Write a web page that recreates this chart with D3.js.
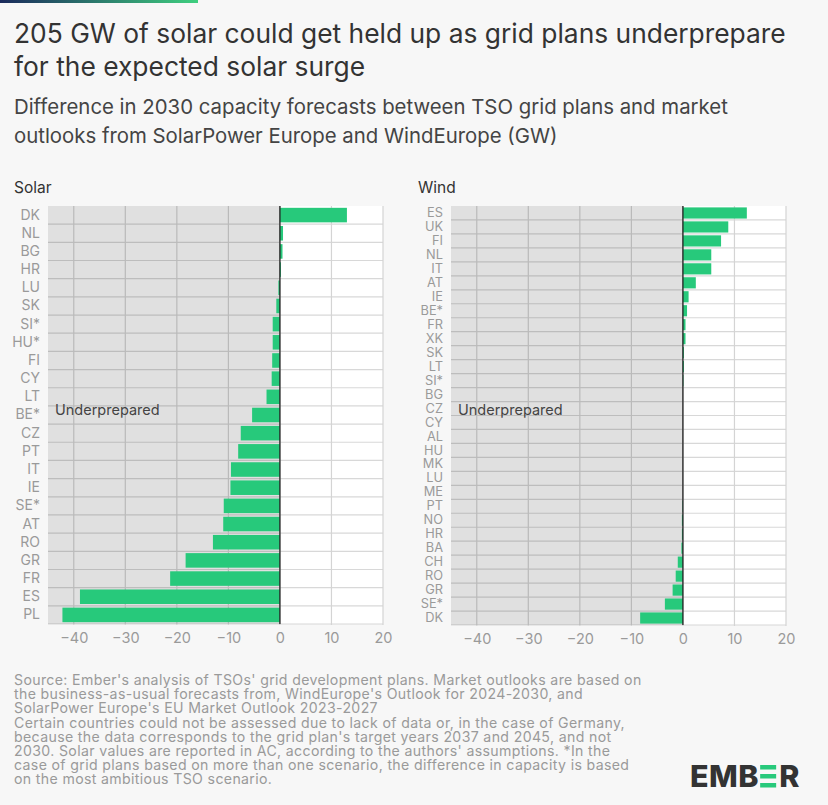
<!DOCTYPE html>
<html>
<head>
<meta charset="utf-8">
<script src="https://cdn.jsdelivr.net/npm/d3@7"></script>
<style>
  body { margin: 0; background: #f7f7f7; }
  svg { display: block; font-family: Inter, "Noto Sans", sans-serif; }
</style>
</head>
<body>
<div id="chart-area"></div>
<script>
// data (GW, TSO plan minus market outlook)
const solarCountries = ["DK","NL","BG","HR","LU","SK","SI*","HU*","FI","CY","LT","BE*","CZ","PT","IT","IE","SE*","AT","RO","GR","FR","ES","PL"];
const solarValues = [13.0, 0.6, 0.5, 0.2, -0.3, -0.7, -1.4, -1.4, -1.5, -1.6, -2.6, -5.4, -7.6, -8.1, -9.5, -9.6, -10.9, -11.0, -13.0, -18.3, -21.3, -38.8, -42.2];

const windCountries = ["ES","UK","FI","NL","IT","AT","IE","BE*","FR","XK","SK","LT","SI*","BG","CZ","CY","AL","HU","MK","LU","ME","PT","NO","HR","BA","CH","RO","GR","SE*","DK"];
const windValues = [12.4, 8.8, 7.4, 5.5, 5.5, 2.5, 1.1, 0.8, 0.5, 0.5, 0.2, 0.2, 0.1, 0, 0, 0, 0, 0, 0, 0, 0, -0.1, -0.2, -0.2, -0.3, -1.0, -1.4, -2.0, -3.5, -8.3];

const xDomain = [-45, 20];
const xTicks = [-40, -30, -20, -10, 0, 10, 20];

const titleLines = ["205 GW of solar could get held up as grid plans underprepare", "for the expected solar surge"];
const subtitleLines = ["Difference in 2030 capacity forecasts between TSO grid plans and market", "outlooks from SolarPower Europe and WindEurope (GW)"];
const footLines = [
  "Source: Ember's analysis of TSOs' grid development plans. Market outlooks are based on",
  "the business-as-usual forecasts from, WindEurope's Outlook for 2024-2030, and",
  "SolarPower Europe's EU Market Outlook 2023-2027",
  "Certain countries could not be assessed due to lack of data or, in the case of Germany,",
  "because the data corresponds to the grid plan's target years 2037 and 2045, and not",
  "2030. Solar values are reported in AC, according to the authors' assumptions. *In the",
  "case of grid plans based on more than one scenario, the difference in capacity is based",
  "on the most ambitious TSO scenario."
];

const W = 828, H = 805;
const green = "#27c97b";

var svg = d3.select("#chart-area")
    .append("svg")
    .attr("width", W)
    .attr("height", H);

// top accent bar
const grad = svg.append("defs").append("linearGradient")
    .attr("id", "topbar");
grad.append("stop").attr("offset", "0%").attr("stop-color", "#1b2a5c");
grad.append("stop").attr("offset", "100%").attr("stop-color", "#3fcf7f");
svg.append("rect")
    .attr("x", 0).attr("y", 0)
    .attr("width", 198).attr("height", 3)
    .attr("fill", "url(#topbar)");

// multi-line text block, font size scaled so the first line spans targetWidth
function textBlock(lines, y0, lineH, size, fill, targetWidth, spacing){
    const t = svg.append("text")
        .attr("fill", fill)
        .attr("font-size", size + "px")
        .attr("letter-spacing", (spacing || 0) + "px");
    t.selectAll("tspan")
        .data(lines)
        .enter().append("tspan")
          .attr("x", 14)
          .attr("y", function(d, i){ return y0 + i * lineH; })
          .text(function(d){ return d; });
    const w = t.select("tspan").node().getComputedTextLength();
    t.attr("font-size", (size * targetWidth / w) + "px");
    return t;
}

textBlock(titleLines, 43, 33, 24, "#333", 772);
textBlock(subtitleLines, 114, 29, 19, "#444", 714);

function drawPanel(opts){
    const x = d3.scaleLinear()
        .domain(xDomain)
        .range([opts.left, opts.right]);

    const y = d3.scaleBand()
        .domain(opts.countries)
        .range([opts.top, opts.bottom])
        .paddingInner(0.2)
        .paddingOuter(0.1);

    const g = svg.append("g");

    // panel title
    g.append("text")
        .attr("x", opts.titleX)
        .attr("y", 193)
        .attr("font-size", "15.5px")
        .attr("fill", "#333")
        .text(opts.title);

    // plot background
    g.append("rect")
        .attr("x", opts.left).attr("y", opts.top)
        .attr("width", opts.right - opts.left)
        .attr("height", opts.bottom - opts.top)
        .attr("fill", "#fff");

    // row separators
    const gap = y.step() - y.bandwidth();
    const rowLines = opts.countries.slice(1).map(function(c){ return y(c) - gap / 2; });
    rowLines.push(opts.bottom);
    g.selectAll(".row-line")
        .data(rowLines)
        .enter().append("line")
        .attr("class", "row-line")
        .attr("x1", opts.left).attr("x2", opts.right)
        .attr("y1", function(d){ return d; })
        .attr("y2", function(d){ return d; })
        .attr("stroke", "#d8d8d8")
        .attr("stroke-width", 1.2);

    // vertical grid
    g.selectAll(".v-line")
        .data(xTicks)
        .enter().append("line")
        .attr("class", "v-line")
        .attr("x1", function(d){ return x(d); })
        .attr("x2", function(d){ return x(d); })
        .attr("y1", opts.top).attr("y2", opts.bottom + 1)
        .attr("stroke", "#d4d4d4")
        .attr("stroke-width", 1.2);

    // underprepared shading
    g.append("rect")
        .attr("x", x(xDomain[0])).attr("y", opts.top)
        .attr("width", x(0) - x(xDomain[0]))
        .attr("height", opts.bottom - opts.top)
        .attr("fill", "#000")
        .attr("fill-opacity", 0.12);

    // bars
    g.selectAll(".bar")
        .data(opts.values)
        .enter().append("rect")
        .attr("class", "bar")
        .attr("x", function(d){ return x(Math.min(0, d)); })
        .attr("y", function(d, i){ return y(opts.countries[i]); })
        .attr("width", function(d){ return Math.abs(x(d) - x(0)); })
        .attr("height", y.bandwidth())
        .attr("fill", green);

    // zero line
    g.append("line")
        .attr("x1", x(0)).attr("x2", x(0))
        .attr("y1", opts.top).attr("y2", opts.bottom)
        .attr("stroke", "#222")
        .attr("stroke-width", 1.3);

    g.append("text")
        .attr("x", x(xDomain[0]) + 7)
        .attr("y", opts.labelY)
        .attr("font-size", "14.5px")
        .attr("fill", "#444")
        .text("Underprepared");

    // country axis
    const yAxis = g.append("g")
        .attr("transform", "translate(" + opts.left + ",0)")
        .call(d3.axisLeft(y).tickSize(0).tickPadding(8));
    yAxis.select(".domain").remove();
    yAxis.selectAll("text")
        .attr("font-family", "Inter, 'Noto Sans', sans-serif")
        .attr("font-size", opts.labelSize)
        .attr("fill", "#9a9a9a");

    // value axis
    const xAxis = g.append("g")
        .attr("transform", "translate(0," + opts.bottom + ")")
        .call(d3.axisBottom(x).tickValues(xTicks).tickSize(0).tickPadding(9)
            .tickFormat(function(d){ return d < 0 ? "\u2212" + Math.abs(d) : d; }));
    xAxis.select(".domain").remove();
    xAxis.selectAll("text")
        .attr("font-family", "Inter, 'Noto Sans', sans-serif")
        .attr("font-size", "14.5px")
        .attr("fill", "#9a9a9a");
}

drawPanel({
    title: "Solar", titleX: 14,
    countries: solarCountries, values: solarValues,
    left: 48, right: 383, top: 206, bottom: 624,
    labelY: 415, labelSize: "14px"
});

drawPanel({
    title: "Wind", titleX: 418,
    countries: windCountries, values: windValues,
    left: 451, right: 786, top: 206, bottom: 625,
    labelY: 415, labelSize: "12.8px"
});

// footnote
textBlock(footLines, 685, 14.2, 14, "#9a9a9a", 629, 0.35);

// EMBER logo
const logo = svg.append("g").attr("transform", "translate(690,787)");
const logoFont = { size: 30.5, weight: 800, fill: "#333" };
const emb = logo.append("text")
    .attr("x", 0).attr("y", 0)
    .attr("font-size", logoFont.size + "px")
    .attr("font-weight", logoFont.weight)
    .attr("letter-spacing", "0.5px")
    .attr("fill", logoFont.fill)
    .text("EMB");
const embW = emb.node().getComputedTextLength() + 1;
[0, 1, 2].forEach(function(i){
    logo.append("rect")
        .attr("x", embW)
        .attr("y", -22 + i * 9)
        .attr("width", 16)
        .attr("height", 4.5)
        .attr("fill", green);
});
logo.append("text")
    .attr("x", embW + 19).attr("y", 0)
    .attr("font-size", logoFont.size + "px")
    .attr("font-weight", logoFont.weight)
    .attr("fill", logoFont.fill)
    .text("R");
</script>
</body>
</html>
